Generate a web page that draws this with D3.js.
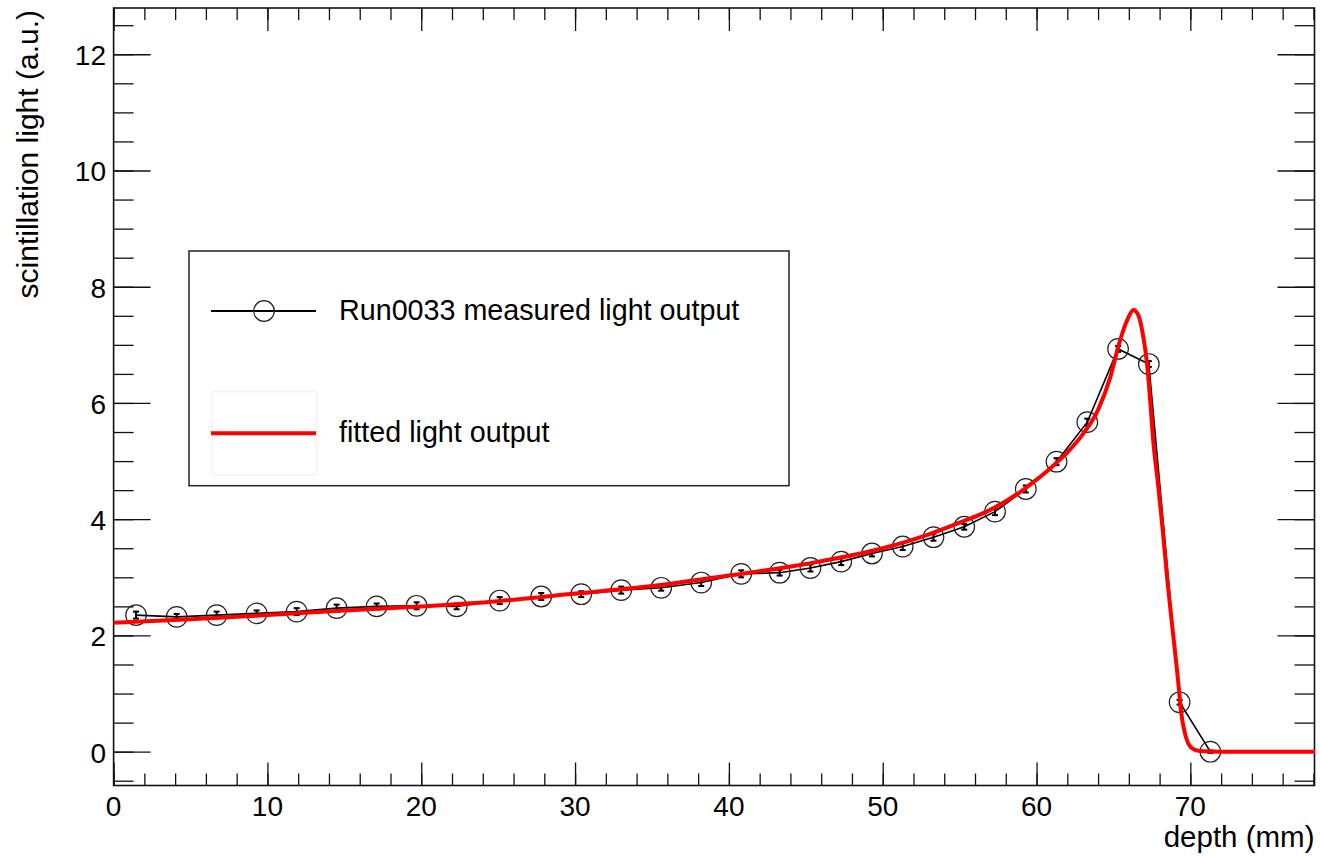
<!DOCTYPE html>
<html>
<head>
<meta charset="utf-8">
<script src="https://cdn.jsdelivr.net/npm/d3@7"></script>
<style>
  body { margin: 0; background: #fff; }
  text { font-family: "Liberation Sans", Arial, sans-serif; fill: #000; }
</style>
</head>
<body>
<div id="chart"></div>
<script>
// measured points (depth in mm, light in a.u.)
const depth = [1.46, 4.1, 6.7, 9.3, 11.9, 14.5, 17.1, 19.7, 22.3, 25.1, 27.8, 30.4, 33.0, 35.6, 38.2, 40.8,
  43.3, 45.3, 47.3, 49.3, 51.3, 53.3, 55.3, 57.3, 59.3, 61.3, 63.3, 65.3, 67.3, 69.3, 71.3];
const light = [2.35, 2.32, 2.35, 2.38, 2.41, 2.47, 2.50, 2.51, 2.50, 2.60, 2.67, 2.71, 2.78, 2.82, 2.91, 3.06,
  3.08, 3.16, 3.27, 3.41, 3.53, 3.69, 3.87, 4.13, 4.52, 4.99, 5.67, 6.93, 6.67, 0.85, 0.0];
const lightErr = [0.06, 0.05, 0.06, 0.05, 0.06, 0.06, 0.05, 0.06, 0.05, 0.06, 0.06, 0.05, 0.06, 0.05, 0.06, 0.06,
  0.05, 0.06, 0.06, 0.05, 0.06, 0.06, 0.05, 0.06, 0.06, 0.06, 0.06, 0.05, 0.05, 0.04, 0.02];

// fitted curve
const fitDepth = [0, 5, 10, 15, 20, 25, 30, 35, 40, 45, 50, 53, 55, 57, 59, 60, 61, 62, 63, 64, 64.8, 65.4,
  65.9, 66.3, 66.6, 66.9, 67.2, 67.4, 67.6, 67.9, 68.2, 68.5, 68.85, 69.2, 69.4, 69.7, 70.1, 70.6, 72, 78.1];
const fitLight = [2.22, 2.28, 2.35, 2.43, 2.50, 2.59, 2.72, 2.85, 3.03, 3.23, 3.50, 3.74, 3.94, 4.16, 4.48, 4.68,
  4.90, 5.15, 5.46, 5.88, 6.45, 7.05, 7.43, 7.60, 7.52, 7.2, 6.63, 6.0, 5.31, 4.6, 3.82, 2.96, 2.09, 1.23, 0.68,
  0.26, 0.06, 0.01, 0, 0];

const xTicks = [0, 10, 20, 30, 40, 50, 60, 70];
const yTicks = [0, 2, 4, 6, 8, 10, 12];

const legendLabels = ["Run0033 measured light output", "fitted light output"];

const W = 1320, H = 856;
const frame = {left: 113.6, right: 1314.5, top: 8, bottom: 785.5};

const svg = d3.select("#chart").append("svg")
    .attr("width", W)
    .attr("height", H);

const x = d3.scaleLinear().domain([0, 78.07]).range([frame.left, frame.right]);
const y = d3.scaleLinear().domain([-0.582, 12.796]).range([frame.bottom, frame.top]);

const fs = 28;

// axes, ROOT style: ticks on all four sides pointing inward
function tickAxis(axisFn, scale, values, len) {
  return axisFn(scale).tickValues(values).tickSize(len).tickFormat("");
}
const xMinor = d3.range(0, 78.1, 2);
const yMinor = d3.range(-0.5, 12.8, 0.5);
const fh = frame.bottom - frame.top, fw = frame.right - frame.left;

const axes = svg.append("g").attr("class", "axes");
axes.append("g").attr("transform", `translate(0,${frame.bottom})`)
    .call(tickAxis(d3.axisTop, x, xMinor, 12));
axes.append("g").attr("transform", `translate(0,${frame.bottom})`)
    .call(tickAxis(d3.axisTop, x, xTicks, 23));
axes.append("g").attr("transform", `translate(0,${frame.top})`)
    .call(tickAxis(d3.axisBottom, x, xMinor, 12));
axes.append("g").attr("transform", `translate(0,${frame.top})`)
    .call(tickAxis(d3.axisBottom, x, xTicks, 23));
axes.append("g").attr("transform", `translate(${frame.left},0)`)
    .call(tickAxis(d3.axisRight, y, yMinor, 20));
axes.append("g").attr("transform", `translate(${frame.left},0)`)
    .call(tickAxis(d3.axisRight, y, yTicks, 37));
axes.append("g").attr("transform", `translate(${frame.right},0)`)
    .call(tickAxis(d3.axisLeft, y, yMinor, 20));
axes.append("g").attr("transform", `translate(${frame.right},0)`)
    .call(tickAxis(d3.axisLeft, y, yTicks, 37));
axes.selectAll(".domain").remove();
axes.selectAll("line").attr("stroke", "#111").attr("stroke-width", 1.3);

// tick labels
svg.append("g").selectAll("text")
    .data(xTicks)
    .join("text")
    .attr("x", d => x(d))
    .attr("y", 816)
    .attr("text-anchor", "middle")
    .attr("font-size", fs)
    .text(d => d);
svg.append("g").selectAll("text")
    .data(yTicks)
    .join("text")
    .attr("x", 106)
    .attr("y", d => y(d) + 11)
    .attr("text-anchor", "end")
    .attr("font-size", fs)
    .text(d => d);

// axis titles
svg.append("text")
    .attr("x", frame.right)
    .attr("y", 847)
    .attr("text-anchor", "end")
    .attr("font-size", 29.5)
    .text("depth (mm)");
svg.append("text")
    .attr("transform", "translate(38,10) rotate(-90)")
    .attr("text-anchor", "end")
    .attr("font-size", 30)
    .text("scintillation light (a.u.)");

// frame
svg.append("rect")
    .attr("x", frame.left).attr("y", frame.top)
    .attr("width", fw).attr("height", fh)
    .attr("fill", "none")
    .attr("stroke", "#111")
    .attr("stroke-width", 1.6);

// measured graph
const pts = depth.map((d, i) => ({d: d, v: light[i], e: lightErr[i]}));
const plot = svg.append("g");
plot.append("path")
    .datum(pts)
    .attr("fill", "none")
    .attr("stroke", "#000")
    .attr("stroke-width", 1.6)
    .attr("d", d3.line().x(p => x(p.d)).y(p => y(p.v)));

const err = plot.append("g").attr("stroke", "#000").attr("stroke-width", 2);
err.selectAll("line.bar").data(pts).join("line").attr("class", "bar")
    .attr("x1", p => x(p.d)).attr("x2", p => x(p.d))
    .attr("y1", p => y(p.v - p.e)).attr("y2", p => y(p.v + p.e));
err.selectAll("line.capHi").data(pts).join("line").attr("class", "capHi")
    .attr("x1", p => x(p.d) - 3).attr("x2", p => x(p.d) + 3)
    .attr("y1", p => y(p.v + p.e)).attr("y2", p => y(p.v + p.e));
err.selectAll("line.capLo").data(pts).join("line").attr("class", "capLo")
    .attr("x1", p => x(p.d) - 3).attr("x2", p => x(p.d) + 3)
    .attr("y1", p => y(p.v - p.e)).attr("y2", p => y(p.v - p.e));

plot.selectAll("circle").data(pts).join("circle")
    .attr("cx", p => x(p.d))
    .attr("cy", p => y(p.v))
    .attr("r", 10.3)
    .attr("fill", "none")
    .attr("stroke", "#222")
    .attr("stroke-width", 1.2);

// fitted curve
const fitPts = fitDepth.map((d, i) => [d, fitLight[i]]);
svg.append("path")
    .datum(fitPts)
    .attr("fill", "none")
    .attr("stroke", "#ff0000")
    .attr("stroke-width", 4)
    .attr("stroke-linejoin", "round")
    .attr("d", d3.line().x(p => x(p[0])).y(p => y(p[1])).curve(d3.curveMonotoneX));

// legend
const leg = svg.append("g");
leg.append("rect")
    .attr("x", 189).attr("y", 251)
    .attr("width", 600).attr("height", 234.7)
    .attr("fill", "#fff")
    .attr("stroke", "#222")
    .attr("stroke-width", 1.5);

leg.append("line")
    .attr("x1", 211).attr("x2", 316).attr("y1", 311).attr("y2", 311)
    .attr("stroke", "#000").attr("stroke-width", 2);
leg.append("circle")
    .attr("cx", 264).attr("cy", 311).attr("r", 10.3)
    .attr("fill", "none").attr("stroke", "#222").attr("stroke-width", 1.2);
leg.append("text")
    .attr("x", 339).attr("y", 320)
    .attr("font-size", 28.7)
    .text(legendLabels[0]);

leg.append("rect")
    .attr("x", 211.7).attr("y", 391.7)
    .attr("width", 105).attr("height", 83.3)
    .attr("fill", "none").attr("stroke", "#f0f0f0").attr("stroke-width", 1);
leg.append("line")
    .attr("x1", 211).attr("x2", 316).attr("y1", 433.3).attr("y2", 433.3)
    .attr("stroke", "#ff0000").attr("stroke-width", 4);
leg.append("text")
    .attr("x", 339).attr("y", 442)
    .attr("font-size", 28.7)
    .text(legendLabels[1]);
</script>
</body>
</html>
